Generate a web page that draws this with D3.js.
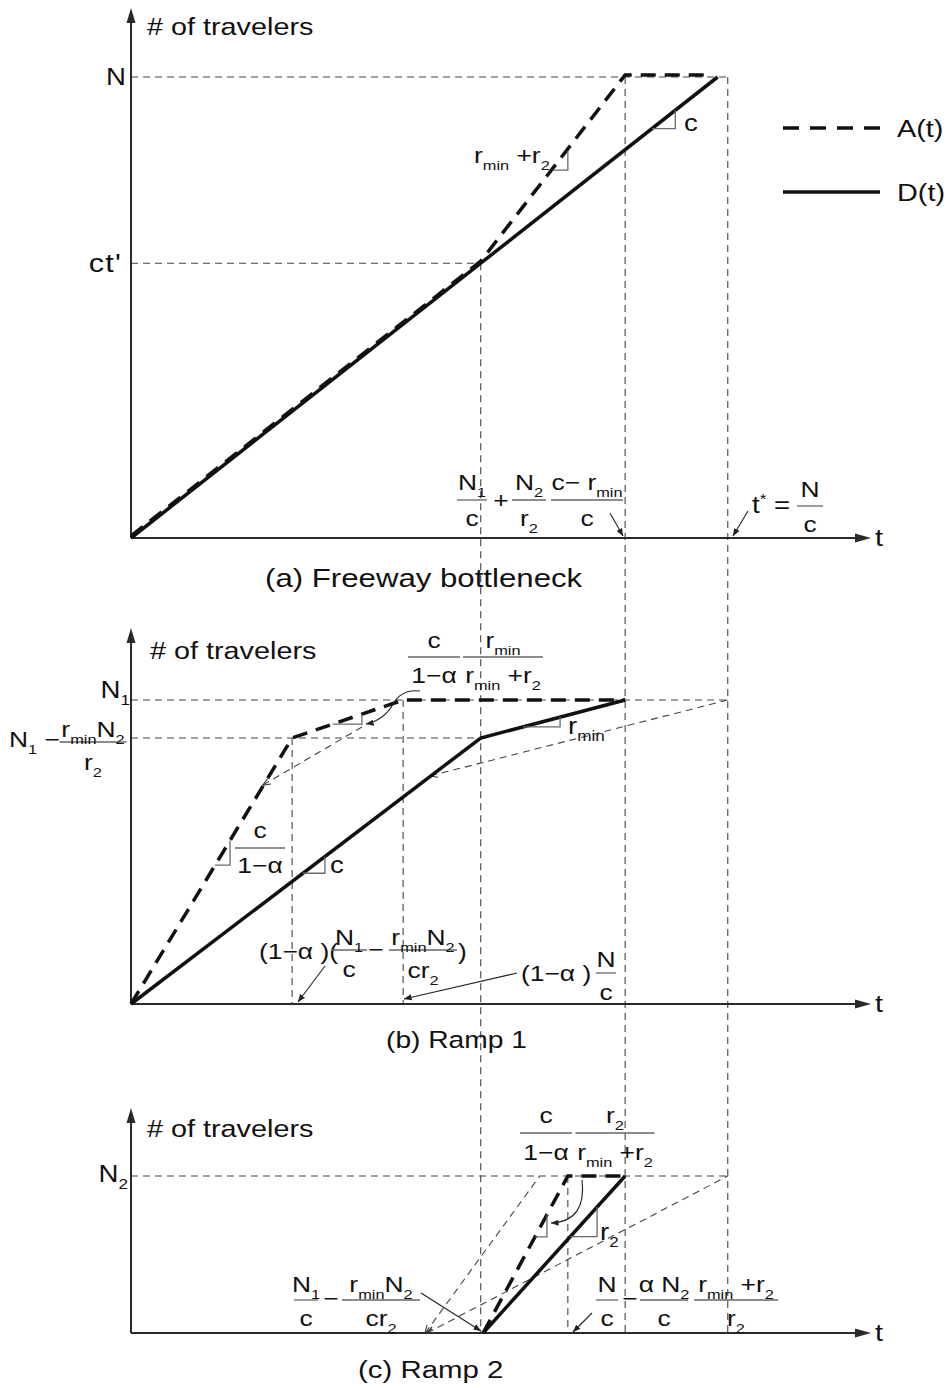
<!DOCTYPE html>
<html>
<head>
<meta charset="utf-8">
<script src="https://cdn.jsdelivr.net/npm/d3@7"></script>
<style>
  body { margin: 0; background: #fff; }
  svg { display: block; }
  text { font-family: "Liberation Sans", Arial, Helvetica, sans-serif; fill: #111; white-space: pre; }
</style>
</head>
<body>
<svg id="chart" width="949" height="1388"></svg>
<script>
// ---- Time points (abstract units, t* = N/c = 100) ----
const tPrime = 58.6;     // t' : queue starts at the freeway bottleneck
const tArrEnd = 82.8;    // last arrival
const tStar = 100;       // t* = N/c
const tMax = 124;        // end of the time axis

// ---- (a) Freeway bottleneck, counts as % of N ----
const ctPrime = 59.6;
const aArrivals   = [[0, 0], [58.6, 59.6], [82.8, 100], [97.0, 100]];
const aDepartures = [[0, 0], [98.3, 100]];

// ---- (b) Ramp 1, counts as % of N1 ----
const bKnee = 87.5;      // N1 - r_min N2 / r2
const bArrivals   = [[0, 0], [27.0, 87.5], [45.6, 100], [82.8, 100]];
const bDepartures = [[0, 0], [58.6, 87.5], [82.8, 100]];
const bGuideA     = [[22.1, 72.0], [38.7, 91.1]];
const bGuideD     = [[50.1, 75.0], [100, 100]];
const bBreaks     = [27.0, 45.6];

// ---- (c) Ramp 2, counts as % of N2 ----
const cArrivals   = [[59.0, 0], [73.2, 100], [82.8, 100]];
const cDepartures = [[59.0, 0], [82.8, 100]];
const cGuideA     = [[49.3, 0], [68.5, 100]];
const cGuideD     = [[49.6, 0], [100, 100]];
const cBreak      = 73.2;

// Slope triangles: [start t, end t] along a curve
const aSlopeD = [87.3, 91.2];
const aSlopeA = [70.7, 73.2];
const bSlopeA1 = [14.1, 16.6];
const bSlopeD1 = [28.8, 32.5];
const bSlopeA2 = [33.8, 38.7];
const bSlopeD2 = [65.7, 71.9];
const cSlopeD = [73.6, 78.1];
const cSlopeA = [67.7, 69.7];

// ---- Scales ----
const x  = d3.scaleLinear().domain([0, tMax]).range([131, 871]);
const yA = d3.scaleLinear().domain([0, 100]).range([538, 77]);
const yB = d3.scaleLinear().domain([0, 100]).range([1004, 700]);
const yC = d3.scaleLinear().domain([0, 100]).range([1333, 1176]);

const svg = d3.select('#chart');
const defs = svg.append('defs');
const INK = '#111', AXIS = '#2a2a2a', GUIDE = '#444', TICK = '#6a6a6a';
const SX = 1.2; // horizontal stretch of lettering

defs.append('marker').attr('id', 'head')
  .attr('viewBox', '0 0 10 10').attr('refX', 9.5).attr('refY', 5)
  .attr('markerWidth', 8).attr('markerHeight', 8).attr('markerUnits', 'userSpaceOnUse')
  .attr('orient', 'auto-start-reverse')
  .append('path').attr('d', 'M0,1.2 L10,5 L0,8.8 Z').attr('fill', '#222');
defs.append('marker').attr('id', 'chev')
  .attr('viewBox', '0 0 10 10').attr('refX', 9.5).attr('refY', 5)
  .attr('markerWidth', 8).attr('markerHeight', 8).attr('markerUnits', 'userSpaceOnUse')
  .attr('orient', 'auto-start-reverse')
  .append('path').attr('d', 'M0,1 L10,5 L0,9').attr('fill', 'none').attr('stroke', '#333').attr('stroke-width', 1.3);

// Text with _{sub} and ^{sup} runs
function rich(g, px, py, str, size, anchor = 'start', spacing = 0) {
  const wrap = g.append('g').attr('transform', `translate(${px},${py}) scale(${SX},1)`);
  const t = wrap.append('text').attr('font-size', size).attr('text-anchor', anchor);
  if (spacing) t.attr('letter-spacing', spacing);
  const re = /([_^])\{([^}]*)\}|([^_^]+)/g;
  let m, shift = 0;
  while ((m = re.exec(str))) {
    const script = !!m[1];
    const target = script ? (m[1] === '_' ? size * 0.3 : -size * 0.4) : 0;
    const ts = t.append('tspan').text(script ? m[2] : m[3]).attr('dy', target - shift);
    if (script) ts.attr('font-size', size * 0.62);
    shift = target;
  }
  return wrap;
}

function frac(g, cx, barY, num, den, barW, numOff = -9, denOff = 26, size = 22) {
  g.append('line').attr('x1', cx - barW / 2).attr('x2', cx + barW / 2)
    .attr('y1', barY).attr('y2', barY).attr('stroke', '#666').attr('stroke-width', 1.3);
  rich(g, cx, barY + numOff, num, size, 'middle');
  rich(g, cx, barY + denOff, den, size, 'middle');
}

function valueAt(pts, t) {
  for (let i = 1; i < pts.length; i++) {
    const [t0, v0] = pts[i - 1], [t1, v1] = pts[i];
    if (t <= t1) return v0 + (v1 - v0) * (t - t0) / (t1 - t0);
  }
  return pts[pts.length - 1][1];
}

function slopeMark(g, y, pts, span) {
  const [s, e] = span;
  g.append('path')
    .attr('d', `M${x(s)},${y(valueAt(pts, s))} H${x(e)} V${y(valueAt(pts, e))}`)
    .attr('fill', 'none').attr('stroke', TICK).attr('stroke-width', 1.3);
}

function axes(g, y, top) {
  const y0 = y(0), x0 = x(0), x1 = x(tMax);
  g.append('line').attr('x1', x0).attr('x2', x0).attr('y1', y0).attr('y2', top + 10)
    .attr('stroke', AXIS).attr('stroke-width', 2);
  g.append('path').attr('d', `M${x0 - 4.5},${top + 15} L${x0},${top} L${x0 + 4.5},${top + 15} Z`).attr('fill', AXIS);
  g.append('line').attr('x1', x0).attr('x2', x1 - 10).attr('y1', y0).attr('y2', y0)
    .attr('stroke', AXIS).attr('stroke-width', 2);
  g.append('path').attr('d', `M${x1 - 16},${y0 - 4.5} L${x1},${y0} L${x1 - 16},${y0 + 4.5} Z`).attr('fill', AXIS);
  rich(g, x1 + 4, y0 + 8, 't', 24);
}

function guide(g, x1, y1, x2, y2) {
  g.append('line').attr('x1', x1).attr('x2', x2).attr('y1', y1).attr('y2', y2)
    .attr('stroke', GUIDE).attr('stroke-width', 1.1).attr('stroke-dasharray', '7,5');
}

function curve(g, y, pts, dashed, extra) {
  const line = d3.line().x(d => x(d[0])).y(d => y(d[1]));
  const p = g.append('path').attr('d', line(pts)).attr('fill', 'none')
    .attr('stroke', INK).attr('stroke-width', 3.5).attr('stroke-linejoin', 'miter');
  if (dashed) p.attr('stroke-dasharray', '15,9');
  if (extra) p.attr('transform', extra);
  return p;
}

function thinGuide(g, y, pts) {
  const line = d3.line().x(d => x(d[0])).y(d => y(d[1]));
  g.append('path').attr('d', line(pts)).attr('fill', 'none')
    .attr('stroke', GUIDE).attr('stroke-width', 1.1).attr('stroke-dasharray', '7,5')
    .attr('marker-start', 'url(#chev)');
}

function leader(g, x1, y1, x2, y2) {
  g.append('line').attr('x1', x1).attr('y1', y1).attr('x2', x2).attr('y2', y2)
    .attr('stroke', '#222').attr('stroke-width', 1.1).attr('marker-end', 'url(#head)');
}

const guides = svg.append('g');
const marks = svg.append('g');
const labels = svg.append('g');

// ---- Long vertical guides shared by all panels ----
guide(guides, x(tPrime), yA(ctPrime), x(tPrime), yC(0));
guide(guides, x(tArrEnd), yA(100), x(tArrEnd), yC(0));
guide(guides, x(tStar), yA(100), x(tStar), yC(0));

// ================= (a) Freeway bottleneck =================
guide(guides, x(0), yA(100), x(tStar), yA(100));
guide(guides, x(0), yA(ctPrime), x(tPrime), yA(ctPrime));
axes(marks, yA, 8);
curve(marks, yA, aDepartures, false);
curve(marks, yA, aArrivals, true, 'translate(0,-2)');
slopeMark(marks, yA, aDepartures, aSlopeD);
slopeMark(marks, yA, aArrivals, aSlopeA);

rich(labels, 147, 35, '# of travelers', 24);
rich(labels, 126, yA(100) + 8, 'N', 23, 'end');
rich(labels, 122, yA(ctPrime) + 9, "ct'", 25.5, 'end', 1);
rich(labels, 474, 163, 'r_{min} +r_{2}', 22);
rich(labels, 684, 131, 'c', 23);

// legend
marks.append('line').attr('x1', 783).attr('x2', 880).attr('y1', 128).attr('y2', 128)
  .attr('stroke', INK).attr('stroke-width', 3.5).attr('stroke-dasharray', '16,11');
marks.append('line').attr('x1', 783).attr('x2', 880).attr('y1', 192).attr('y2', 192)
  .attr('stroke', INK).attr('stroke-width', 3.5);
rich(labels, 897, 137, 'A(t)', 24);
rich(labels, 897, 201, 'D(t)', 24);

// time labels
frac(labels, 472, 500, 'N_{1}', 'c', 30, -10, 26);
rich(labels, 501, 508, '+', 22, 'middle');
frac(labels, 529, 500, 'N_{2}', 'r_{2}', 34, -10, 26);
frac(labels, 587, 500, 'c− r_{min}', 'c', 72, -10, 26);
leader(labels, 610, 513, 623, 536);
rich(labels, 752, 513, 't^{*} =', 23);
frac(labels, 810, 506, 'N', 'c', 26, -9, 26);
leader(labels, 748, 511, 733, 536);
rich(labels, 265, 587, '(a) Freeway bottleneck', 26);

// ================= (b) Ramp 1 =================
guide(guides, x(0), yB(100), x(tStar), yB(100));
guide(guides, x(0), yB(bKnee), x(tPrime), yB(bKnee));
bBreaks.forEach(t => guide(guides, x(t), yB(valueAt(bArrivals, t)), x(t), yB(0)));
axes(marks, yB, 628);
thinGuide(marks, yB, bGuideA);
thinGuide(marks, yB, bGuideD);
curve(marks, yB, bDepartures, false);
curve(marks, yB, bArrivals, true);
slopeMark(marks, yB, bArrivals, bSlopeA1);
slopeMark(marks, yB, bDepartures, bSlopeD1);
slopeMark(marks, yB, bArrivals, bSlopeA2);
slopeMark(marks, yB, bDepartures, bSlopeD2);

rich(labels, 150, 659, '# of travelers', 24);
rich(labels, 130, yB(100) - 2, 'N_{1}', 23, 'end');
rich(labels, 9, yB(bKnee) + 9, 'N_{1} −', 22);
frac(labels, 93, 742, 'r_{min}N_{2}', 'r_{2}', 67, -5, 28);
frac(labels, 434, 657, 'c', '1−α', 52);
frac(labels, 503, 657, 'r_{min}', 'r_{min} +r_{2}', 80);
labels.append('path').attr('d', 'M420,691 C404,689 397,697 393,704 C388,714 377,722 366,724')
  .attr('fill', 'none').attr('stroke', '#222').attr('stroke-width', 1.1).attr('marker-end', 'url(#head)');
frac(labels, 260, 848, 'c', '1−α', 50, -10, 25);
rich(labels, 330, 873, 'c', 23);
rich(labels, 568, 734, 'r_{min}', 23);

rich(labels, 259, 959, '(1−α )(', 22);
frac(labels, 349, 950, 'N_{1}', 'c', 36, -5, 27);
rich(labels, 376, 957, '−', 22, 'middle');
frac(labels, 423, 950, 'r_{min}N_{2}', 'cr_{2}', 68, -5, 28);
rich(labels, 458, 959, ')', 22);
leader(labels, 325, 966, 298, 1002);
rich(labels, 521, 981, '(1−α )', 22);
frac(labels, 606, 973, 'N', 'c', 20, -6, 27);
leader(labels, 517, 973, 404, 999);
rich(labels, 386, 1048, '(b) Ramp 1', 23.5);

// ================= (c) Ramp 2 =================
guide(guides, x(0), yC(100), x(tStar), yC(100));
guide(guides, x(cBreak), yC(100), x(cBreak), yC(0));
axes(marks, yC, 1108);
thinGuide(marks, yC, cGuideA);
thinGuide(marks, yC, cGuideD);
curve(marks, yC, cDepartures, false);
curve(marks, yC, cArrivals, true);
slopeMark(marks, yC, cDepartures, cSlopeD);
slopeMark(marks, yC, cArrivals, cSlopeA);

rich(labels, 147, 1137, '# of travelers', 24);
rich(labels, 128, yC(100) + 6, 'N_{2}', 23, 'end');
frac(labels, 546, 1133, 'c', '1−α', 52, -10, 27);
frac(labels, 615, 1133, 'r_{2}', 'r_{min} +r_{2}', 79, -10, 27);
labels.append('path').attr('d', 'M582,1180 C585,1206 576,1222 551,1223')
  .attr('fill', 'none').attr('stroke', '#222').attr('stroke-width', 1.1).attr('marker-end', 'url(#head)');
rich(labels, 600, 1240, 'r_{2}', 23);

frac(labels, 306, 1300, 'N_{1}', 'c', 24, -8, 26);
rich(labels, 331, 1306, '−', 22, 'middle');
frac(labels, 381, 1300, 'r_{min}N_{2}', 'cr_{2}', 78, -8, 26);
leader(labels, 421, 1293, 481, 1331);
frac(labels, 607, 1300, 'N', 'c', 22, -8, 26);
rich(labels, 630, 1306, '−', 22, 'middle');
frac(labels, 664, 1300, 'α N_{2}', 'c', 48, -8, 26);
frac(labels, 736, 1300, 'r_{min} +r_{2}', 'r_{2}', 84, -8, 26);
leader(labels, 592, 1313, 573, 1332);
rich(labels, 358, 1378, '(c) Ramp 2', 24.5);
</script>
</body>
</html>
